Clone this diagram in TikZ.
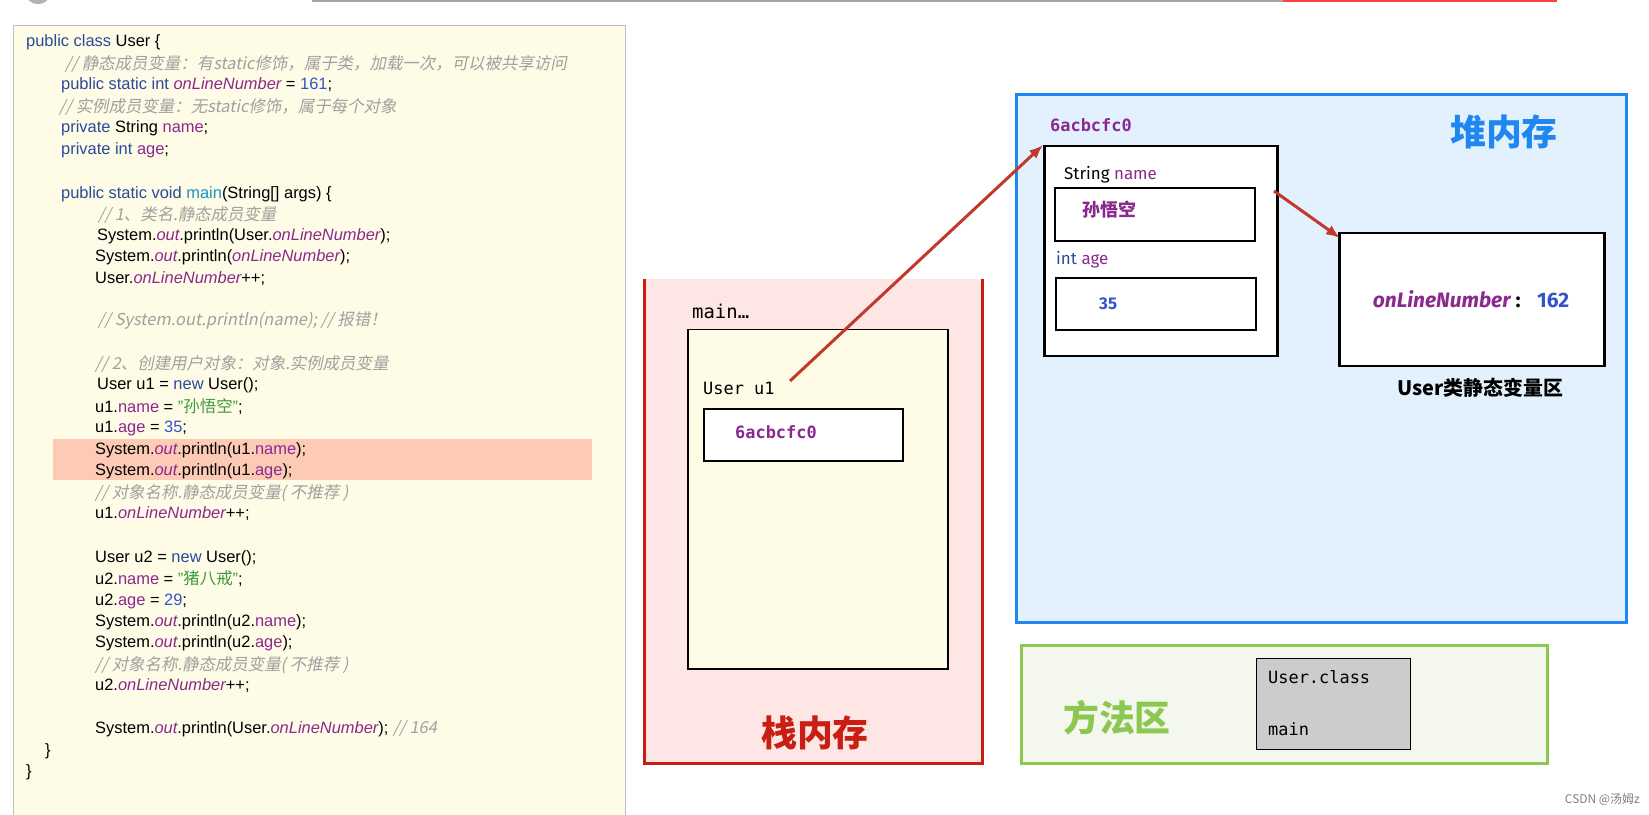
\documentclass[tikz,border=0pt]{standalone}
\usepackage{fontspec}
\usetikzlibrary{arrows.meta}
\setmainfont{Liberation Sans}
\newfontfamily\cjk{Noto Sans CJK SC}
\newfontfamily\cjki[FakeSlant=0.2]{Noto Sans CJK SC}
\newfontfamily\lab{Fira Sans}
\newfontfamily\mon{DejaVu Sans Mono}
\definecolor{kwc}{HTML}{2A4A9E}
\definecolor{fdc}{HTML}{8A2A8E}
\definecolor{stc}{HTML}{3C9A3C}
\definecolor{cmc}{HTML}{A0A0A0}
\definecolor{nmc}{HTML}{3355CC}
\definecolor{codebg}{HTML}{FEFBE6}
\definecolor{hl}{HTML}{FDCBB5}
\definecolor{stackred}{HTML}{C81E14}
\definecolor{stackbg}{HTML}{FDE6E3}
\definecolor{heapblue}{HTML}{1E88F0}
\definecolor{heapbg}{HTML}{E3F0FD}
\definecolor{methgreen}{HTML}{8CC850}
\definecolor{methbg}{HTML}{F4F7EE}
\definecolor{arr}{HTML}{C0392B}
\newcommand\jkw[1]{\textcolor{kwc}{#1}}
\newcommand\jfd[1]{\textcolor{fdc}{#1}}
\newcommand\jsf[1]{\textcolor{fdc}{\itshape #1}}
\newcommand\jnm[1]{\textcolor{nmc}{#1}}
\newcommand\jcm[1]{\textcolor{cmc}{\cjki #1}}
\newcommand\jst[1]{\textcolor{stc}{#1}}
\newcommand\jcl[4]{\node[code] (#1) at (#2,#3) {#4};}
\newcommand\jprt{System.\jsf{out}.println}
\begin{document}
\begin{tikzpicture}[x=1bp,y=-1bp,
  code/.style={anchor=west,inner sep=0pt,font=\fontsize{16.5}{18}\selectfont},
  blk/.style={draw=black,line width=2.5pt,fill=white},
  arrow/.style={draw=arr,line width=3pt,-{Latex[length=14pt,width=11pt]}}]
\useasboundingbox (0,0) rectangle (1649,815);
\fill[white] (0,0) rectangle (1649,815);
% top decorations
\draw[gray!70,line width=2pt] (312,1) -- (1283,1);
\draw[red!75,line width=2pt] (1283,1) -- (1557,1);
\fill[gray!60] (38,-10) circle (14);
% code panel
\node[draw=gray!50,fill=codebg,line width=1pt,minimum width=612bp,minimum height=790bp,anchor=north west,inner sep=0] (panel) at (13,25) {};
\fill[hl] (53,439) rectangle (592,480);
\jcl{c1}{26}{42}{\jkw{public class} User \{}
\jcl{c2}{65}{64}{\jcm{// 静态成员变量：有static修饰，属于类，加载一次，可以被共享访问}}
\jcl{c3}{61}{85}{\jkw{public static int} \jsf{onLineNumber} = \jnm{161};}
\jcl{c4}{59}{107}{\jcm{// 实例成员变量：无static修饰，属于每个对象}}
\jcl{c5}{61}{128}{\jkw{private} String \jfd{name};}
\jcl{c6}{61}{150}{\jkw{private int} \jfd{age};}
\jcl{c7}{61}{194}{\jkw{public static void} \textcolor{kwc!60!cyan}{main}(String[] args) \{}
\jcl{c8}{98}{215}{\jcm{// 1、类名.静态成员变量}}
\jcl{c9}{97}{236}{\jprt(User.\jsf{onLineNumber});}
\jcl{c10}{95}{257}{\jprt(\jsf{onLineNumber});}
\jcl{c11}{95}{279}{User.\jsf{onLineNumber}++;}
\jcl{c12}{98}{321}{\jcm{// System.out.println(name); // 报错！}}
\jcl{c13}{95}{364}{\jcm{// 2、创建用户对象：对象.实例成员变量}}
\jcl{c14}{97}{385}{User u1 = \jkw{new} User();}
\jcl{c15}{95}{407}{u1.\jfd{name} = \jst{"{\cjk 孙悟空}"};}
\jcl{c16}{95}{428}{u1.\jfd{age} = \jnm{35};}
\jcl{c17}{95}{450}{\jprt(u1.\jfd{name});}
\jcl{c18}{95}{471}{\jprt(u1.\jfd{age});}
\jcl{c19}{95}{493}{\jcm{// 对象名称.静态成员变量( 不推荐 )}}
\jcl{c20}{95}{514}{u1.\jsf{onLineNumber}++;}
\jcl{c21}{95}{558}{User u2 = \jkw{new} User();}
\jcl{c22}{95}{579}{u2.\jfd{name} = \jst{"{\cjk 猪八戒}"};}
\jcl{c23}{95}{601}{u2.\jfd{age} = \jnm{29};}
\jcl{c24}{95}{622}{\jprt(u2.\jfd{name});}
\jcl{c25}{95}{643}{\jprt(u2.\jfd{age});}
\jcl{c26}{95}{665}{\jcm{// 对象名称.静态成员变量( 不推荐 )}}
\jcl{c27}{95}{686}{u2.\jsf{onLineNumber}++;}
\jcl{c28}{95}{729}{\jprt(User.\jsf{onLineNumber}); \jcm{// 164}}
\jcl{c29}{45}{751}{\}}
\jcl{c30}{26}{772}{\}}
% stack
\draw[stackred,fill=stackbg,line width=3pt] (644,279) -- (644,763) -- (982,763) -- (982,279);
\node[font=\cjk\bfseries\fontsize{36}{40}\selectfont,text=stackred] (stk) at (815,733) {栈内存};
\node[anchor=west,font=\mon\fontsize{19}{22}\selectfont,inner sep=0] (mainlbl) at (692,311) {main…};
\node[draw=black,line width=1.5pt,fill=codebg,anchor=north west,minimum width=260bp,minimum height=339bp,inner sep=0] (frame) at (687,329) {};
\node[anchor=west,font=\mon\fontsize{17}{20}\selectfont,inner sep=0] (u1) at (703,388) {User u1};
\node[blk,line width=2pt,anchor=north west,minimum width=199bp,minimum height=52bp,inner sep=0] (u1box) at (703,408) {};
\node[anchor=west,font=\mon\bfseries\fontsize{17}{20}\selectfont,text=fdc,inner sep=0] (u1val) at (735,432) {6acbcfc0};
% heap
\node[draw=heapblue,fill=heapbg,line width=3pt,anchor=north west,minimum width=610bp,minimum height=528bp,inner sep=0] (heap) at (1015,93) {};
\node[font=\cjk\bfseries\fontsize{36}{40}\selectfont,text=heapblue] (heaplbl) at (1504,132) {堆内存};
\node[anchor=west,font=\mon\bfseries\fontsize{17}{20}\selectfont,text=fdc,inner sep=0] (addr) at (1050,125) {6acbcfc0};
\node[blk,anchor=north west,minimum width=233bp,minimum height=210bp,inner sep=0] (obj) at (1043,145) {};
\node[anchor=west,font=\lab\fontsize{17}{20}\selectfont,inner sep=0] (sn) at (1064,175) {String \textcolor{fdc}{name}};
\node[blk,line width=2pt,anchor=north west,minimum width=200bp,minimum height=53bp,inner sep=0] (nbox) at (1054,187) {};
\node[anchor=west,font=\cjk\bfseries\fontsize{18}{20}\selectfont,text=fdc,inner sep=0] (nval) at (1082,210) {孙悟空};
\node[anchor=west,font=\lab\fontsize{17}{20}\selectfont,inner sep=0] (ia) at (1056,260) {\textcolor{kwc}{int} \textcolor{fdc}{age}};
\node[blk,line width=2pt,anchor=north west,minimum width=200bp,minimum height=52bp,inner sep=0] (abox) at (1055,277) {};
\node[anchor=west,font=\lab\bfseries\fontsize{17}{20}\selectfont,text=nmc,inner sep=0] (aval) at (1099,304) {35};
\node[blk,anchor=north west,minimum width=265bp,minimum height=133bp,inner sep=0] (sbox) at (1338,232) {};
\node[font=\lab\bfseries\fontsize{21}{24}\selectfont,inner sep=0] (sval) at (1471,299) {\textcolor{fdc}{\itshape onLineNumber} : \ \ \textcolor{nmc}{162}};
\node[font=\cjk\bfseries\fontsize{20}{24}\selectfont,inner sep=0] (slbl) at (1480,388) {User类静态变量区};
\coordinate (a1s) at (790,381);
\coordinate (a2s) at (1274,191);
\draw[arrow] (a1s) -- (obj.north west);
\draw[arrow] (a2s) -- ([xshift=2bp,yshift=-6bp]sbox.north west);
% method area
\node[draw=methgreen,fill=methbg,line width=3pt,anchor=north west,minimum width=526bp,minimum height=118bp,inner sep=0] (meth) at (1020,644) {};
\node[font=\cjk\bfseries\fontsize{36}{40}\selectfont,text=methgreen] (methlbl) at (1117,718) {方法区};
\node[draw=black,line width=1pt,fill=gray!40,anchor=north west,minimum width=154bp,minimum height=91bp,inner sep=0] (cls) at (1256,658) {};
\node[anchor=west,font=\mon\fontsize{17}{20}\selectfont,inner sep=0] (clsname) at (1268,677) {User.class};
\node[anchor=west,font=\mon\fontsize{17}{20}\selectfont,inner sep=0] (clsmain) at (1268,729) {main};
\node[anchor=east,font=\cjk\fontsize{12}{14}\selectfont,text=gray,inner sep=0] (wm) at (1640,800) {CSDN @汤姆z};
\end{tikzpicture}
\end{document}
